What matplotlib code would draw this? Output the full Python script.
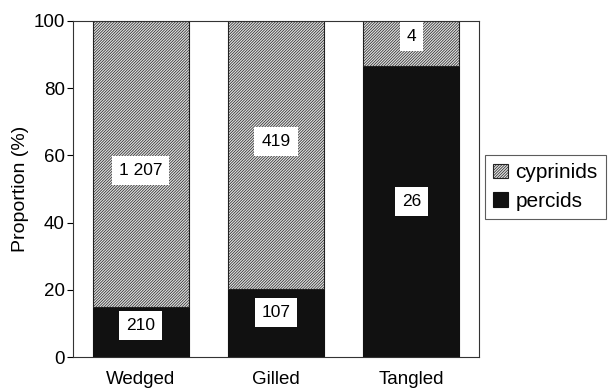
import matplotlib.pyplot as plt
import numpy as np

plt.rcParams['font.family'] = ['Liberation Sans', 'DejaVu Sans']
plt.rcParams['hatch.color'] = '#7a7a7a'
plt.rcParams['hatch.linewidth'] = 0.5

# counts of fish per capture mode
modes = ['Wedged', 'Gilled', 'Tangled']
percids = np.array([210, 107, 26])
cyprinids = np.array([1207, 419, 4])
percid_labels = ['210', '107', '26']
cyprinid_labels = ['1 207', '419', '4']

total = percids + cyprinids
p_perc = percids / total * 100
p_cyp = cyprinids / total * 100

fig = plt.figure(figsize=(6.11, 3.9), dpi=100)
ax = fig.add_axes([73 / 611, 1 - 357 / 390, 406 / 611, 336 / 390])

x = np.arange(len(modes))
w = 0.71
ax.bar(x, p_perc, w, color='#111111', edgecolor='#111111', linewidth=0.8, label='percids')
ax.bar(x, p_cyp, w, bottom=p_perc, color='#e0e0e0', edgecolor='#222222', linewidth=0.8,
       hatch='/' * 12, label='cyprinids')

# small nudges so the count boxes sit where they read best
perc_dy = [2, 3, 3]
cyp_dy = [-2, 4, 2]
box = dict(boxstyle='square,pad=0.4', fc='white', ec='none')
for i in range(len(modes)):
    ax.text(x[i], p_perc[i] / 2 + perc_dy[i], percid_labels[i], ha='center', va='center',
            fontsize=12.5, bbox=box)
    ax.text(x[i], p_perc[i] + p_cyp[i] / 2 + cyp_dy[i], cyprinid_labels[i], ha='center',
            va='center', fontsize=12.5, bbox=box)

ax.set_xlim(-0.5, 2.5)
ax.set_ylim(0, 100)
ax.set_yticks([0, 20, 40, 60, 80, 100])
ax.set_xticks(x)
ax.set_xticklabels(modes)
ax.tick_params(axis='x', length=0, pad=10, labelsize=13.5)
ax.tick_params(axis='y', length=4, width=0.8, labelsize=13.5, direction='out', pad=2)
ax.set_ylabel('Proportion (%)', fontsize=14, labelpad=3)
for s in ax.spines.values():
    s.set_linewidth(0.8)
    s.set_color('#333333')

h, l = ax.get_legend_handles_labels()
leg = fig.legend(h[::-1], l[::-1], loc='upper left', bbox_to_anchor=(485 / 611, 1 - 155 / 390),
                 fontsize=15, frameon=True, fancybox=False, handlelength=0.7, handleheight=0.7,
                 handletextpad=0.35, borderpad=0.4, labelspacing=0.45, borderaxespad=0)
leg.get_frame().set_edgecolor('#333333')
leg.get_frame().set_linewidth(0.8)

fig.savefig('out.png', dpi=100)
